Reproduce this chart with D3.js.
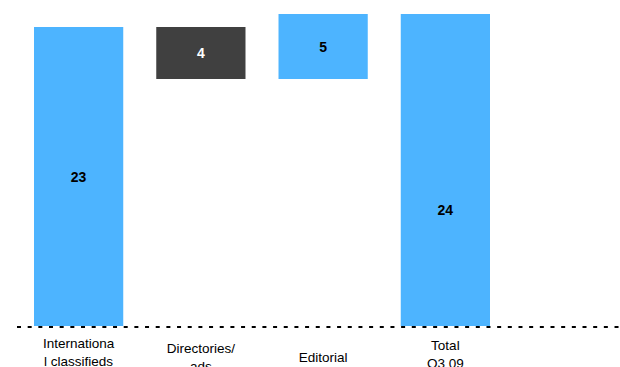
<!DOCTYPE html>
<html>
<head>
<meta charset="utf-8">
<script src="https://cdn.jsdelivr.net/npm/d3@7"></script>
<style>
	body { margin: 0; background: #fff; }
	svg { display: block; font-family: "Liberation Sans", Arial, sans-serif; }
</style>
</head>
<body>
<script>

const categories = [['Internationa', 'l classifieds'], ['Directories/', 'ads'], ['Editorial'], ['Total', 'Q3 09']];
const values = [23, -4, 5, 24];
const isTotal = [false, false, false, true];
const colors = ['#4db4ff', '#404040', '#4db4ff', '#4db4ff'];
const labelColors = ['#000', '#fff', '#000', '#000'];

const width = 620;
const height = 367;
const baseY = 326;

// running totals for the waterfall
let run = 0;
const bars = values.map((v, i) => {
	let y0, y1;
	if (isTotal[i]) { y0 = 0; y1 = v; run = v; }
	else { y0 = run; y1 = run + v; run = y1; }
	return { i: i, v: v, lo: Math.min(y0, y1), hi: Math.max(y0, y1) };
});

const xScale = d3.scaleBand()
	.domain(d3.range(categories.length))
	.range([34, 490])
	.paddingInner(0.27)
	.paddingOuter(0);

const yScale = d3.scaleLinear()
	.domain([0, 24])
	.range([baseY, 14]);

const svg = d3.select('body')
	.append('svg')
	.attr('width', width)
	.attr('height', height);

svg.selectAll('rect.bar')
	.data(bars)
	.enter()
	.append('rect')
	.attr('class', 'bar')
	.attr('x', d => xScale(d.i))
	.attr('y', d => yScale(d.hi))
	.attr('width', xScale.bandwidth())
	.attr('height', d => yScale(d.lo) - yScale(d.hi))
	.attr('fill', d => colors[d.i]);

svg.selectAll('text.val')
	.data(bars)
	.enter()
	.append('text')
	.attr('class', 'val')
	.attr('x', d => xScale(d.i) + xScale.bandwidth() / 2)
	.attr('y', d => {
		const mid = (yScale(d.lo) + yScale(d.hi)) / 2;
		return isTotal[d.i] ? mid + 40 : mid;
	})
	.attr('text-anchor', 'middle')
	.attr('dominant-baseline', 'central')
	.attr('font-size', 14)
	.attr('font-weight', 'bold')
	.attr('fill', d => labelColors[d.i])
	.text(d => Math.abs(d.v));

// dotted baseline
svg.append('line')
	.attr('x1', 17)
	.attr('x2', width)
	.attr('y1', yScale(0) + 1)
	.attr('y2', yScale(0) + 1)
	.attr('stroke', '#000')
	.attr('stroke-width', 2)
	.attr('stroke-dasharray', '4,6.67');

// category labels sit a little differently under each bar
const labelMid = [352, 357.5, 357, 354.5];

const cats = svg.selectAll('text.cat')
	.data(categories)
	.enter()
	.append('text')
	.attr('class', 'cat')
	.attr('text-anchor', 'middle')
	.attr('font-size', 13.5)
	.attr('fill', '#000');

cats.each(function(lines, i) {
	const cx = xScale(i) + xScale.bandwidth() / 2;
	const top = labelMid[i] - (lines.length - 1) * 9;
	d3.select(this).selectAll('tspan')
		.data(lines)
		.enter()
		.append('tspan')
		.attr('x', cx)
		.attr('y', (d, j) => top + j * 18)
		.attr('dominant-baseline', 'central')
		.text(d => d);
});

</script>
</body>
</html>
